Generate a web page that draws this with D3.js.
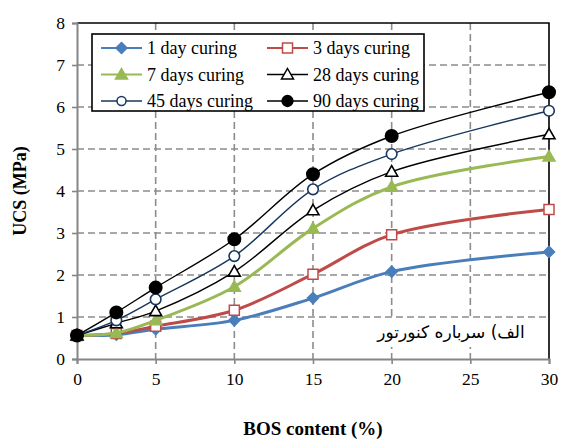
<!DOCTYPE html>
<html>
<head>
<meta charset="utf-8">
<script src="https://cdn.jsdelivr.net/npm/d3@7/dist/d3.min.js"></script>
<style>
  html, body { margin: 0; padding: 0; background: #fff; }
  svg { display: block; }
  svg text { font-family: "Liberation Serif", "Times New Roman", serif; }
  svg text.note { font-family: "DejaVu Sans", sans-serif; }
</style>
</head>
<body>
<svg id="chart" width="562" height="442"></svg>
<script>
// BOS content (%) on the x axis
const bosContent = [0, 2.5, 5, 10, 15, 20, 30];

// UCS (MPa) for each curing period
const ucs1Day  = [0.56, 0.58, 0.71, 0.92, 1.45, 2.08, 2.55];
const ucs3Day  = [0.56, 0.61, 0.78, 1.16, 2.02, 2.96, 3.56];
const ucs7Day  = [0.56, 0.62, 0.92, 1.72, 3.11, 4.10, 4.82];
const ucs28Day = [0.56, 0.85, 1.14, 2.08, 3.54, 4.46, 5.35];
const ucs45Day = [0.56, 0.92, 1.42, 2.45, 4.04, 4.88, 5.91];
const ucs90Day = [0.56, 1.11, 1.70, 2.85, 4.40, 5.31, 6.35];

const seriesNames = ["1 day curing", "3 days curing", "7 days curing",
                     "28 days curing", "45 days curing", "90 days curing"];

const xTicks = [0, 5, 10, 15, 20, 25, 30];
const yTicks = [0, 1, 2, 3, 4, 5, 6, 7, 8];

const xTitle = "BOS content  (%)";
const yTitle = "UCS (MPa)";
const note = "الف) سرباره کنورتور";

const series = [
  { name: seriesNames[0], values: ucs1Day,  color: "#4a7ebb", width: 3,   marker: "diamond",  fill: "#4a7ebb" },
  { name: seriesNames[1], values: ucs3Day,  color: "#be4b48", width: 3,   marker: "square",   fill: "#fff" },
  { name: seriesNames[2], values: ucs7Day,  color: "#98b954", width: 3,   marker: "triangle", fill: "#98b954" },
  { name: seriesNames[3], values: ucs28Day, color: "#000",    width: 1.4, marker: "triangle", fill: "#fff" },
  { name: seriesNames[4], values: ucs45Day, color: "#17375e", width: 1.4, marker: "circle",   fill: "#fff" },
  { name: seriesNames[5], values: ucs90Day, color: "#000",    width: 1.4, marker: "circle",   fill: "#000" }
];

const svg = d3.select("#chart");
const serif = "Liberation Serif, Times New Roman, serif";

const x = d3.scaleLinear().domain([0, 30]).range([77, 549]);
const y = d3.scaleLinear().domain([0, 8]).range([359, 23]);

// dashed grid
const grid = svg.append("g").attr("stroke", "#8c8c8c").attr("stroke-width", 1.6)
  .attr("stroke-dasharray", "7,4");
grid.selectAll("line.h").data(yTicks.filter(d => d > 0 && d < 8)).join("line")
  .attr("x1", x(0)).attr("x2", x(30)).attr("y1", d => y(d)).attr("y2", d => y(d));
grid.selectAll("line.v").data(xTicks.filter(d => d > 0 && d < 30)).join("line")
  .attr("y1", y(8)).attr("y2", y(0)).attr("x1", d => x(d)).attr("x2", d => x(d));

// top and right frame
svg.append("path")
  .attr("d", `M${x(0)},${y(8)}H${x(30)}V${y(0)}`)
  .attr("fill", "none").attr("stroke", "#000").attr("stroke-width", 1.6);

// axes
const yAxis = svg.append("g").attr("transform", `translate(${x(0)},0)`)
  .call(d3.axisLeft(y).tickValues(yTicks).tickSize(5).tickPadding(7).tickFormat(d3.format("d")));
const xAxis = svg.append("g").attr("transform", `translate(0,${y(0)})`)
  .call(d3.axisBottom(x).tickValues(xTicks).tickSize(5).tickPadding(9).tickFormat(d3.format("d")));
[yAxis, xAxis].forEach(g => {
  g.attr("font-family", serif).attr("font-size", 17.5);
  g.select(".domain").attr("stroke", "#868686").attr("stroke-width", 2);
  g.selectAll(".tick line").attr("stroke", "#868686").attr("stroke-width", 1.6);
  g.selectAll(".tick text").attr("fill", "#000");
});

// marker shapes
function markerPath(type) {
  switch (type) {
    case "diamond":  return "M0,-5.5L5.5,0L0,5.5L-5.5,0Z";
    case "square":   return "M-5,-5H5V5H-5Z";
    case "triangle": return "M0,-6L6,4.5H-6Z";
    default: return d3.symbol(d3.symbolCircle, Math.PI * 5.3 * 5.3)();
  }
}
function markerR(s) { return s.fill === "#000" ? 6.2 : 5.3; }

const line = d3.line().x((d, i) => x(bosContent[i])).y(d => y(d)).curve(d3.curveCatmullRom.alpha(0.5));

const plot = svg.append("g");
series.forEach(s => {
  const g = plot.append("g");
  g.append("path").attr("d", line(s.values)).attr("fill", "none")
    .attr("stroke", s.color).attr("stroke-width", s.width).attr("stroke-linejoin", "round");
  g.selectAll("path.m").data(s.values).join("path")
    .attr("transform", (d, i) => `translate(${x(bosContent[i])},${y(d)})`)
    .attr("d", s.marker === "circle" ? d3.symbol(d3.symbolCircle, Math.PI * markerR(s) ** 2)() : markerPath(s.marker))
    .attr("fill", s.fill).attr("stroke", s.color).attr("stroke-width", s.width > 2 ? 1.5 : 1.6);
});

// legend
const legend = svg.append("g");
legend.append("rect").attr("x", 92).attr("y", 34).attr("width", 332).attr("height", 77)
  .attr("fill", "#fff").attr("stroke", "#000").attr("stroke-width", 1.6);
series.forEach((s, i) => {
  const col = i % 2, row = Math.floor(i / 2);
  const lx = col === 0 ? 101 : 267;
  const ly = 48 + row * 26.5;
  const g = legend.append("g");
  g.append("line").attr("x1", lx).attr("x2", lx + 41).attr("y1", ly).attr("y2", ly)
    .attr("stroke", s.color).attr("stroke-width", s.width > 2 ? 2 : 1.4);
  g.append("path").attr("transform", `translate(${lx + 20.5},${ly})`)
    .attr("d", s.marker === "circle" ? d3.symbol(d3.symbolCircle, Math.PI * (markerR(s) - 0.8) ** 2)() : markerPath(s.marker))
    .attr("fill", s.fill).attr("stroke", s.color).attr("stroke-width", 1.5);
  g.append("text").attr("x", lx + 46).attr("y", ly + 6)
    .attr("font-size", 18).text(s.name);
});

// caption box
svg.append("rect").attr("x", 368).attr("y", 320).attr("width", 165).attr("height", 27).attr("fill", "#fff");
svg.append("text").attr("class", "note").attr("x", 451).attr("y", 338).attr("text-anchor", "middle")
  .attr("direction", "rtl").attr("font-size", 17).text(note);

// axis titles
svg.append("text").attr("x", 313).attr("y", 435).attr("text-anchor", "middle")
  .attr("font-size", 19).attr("font-weight", "bold").text(xTitle);
svg.append("text").attr("transform", "translate(26,191) rotate(-90)").attr("text-anchor", "middle")
  .attr("font-size", 18).attr("font-weight", "bold").text(yTitle);
</script>
</body>
</html>
